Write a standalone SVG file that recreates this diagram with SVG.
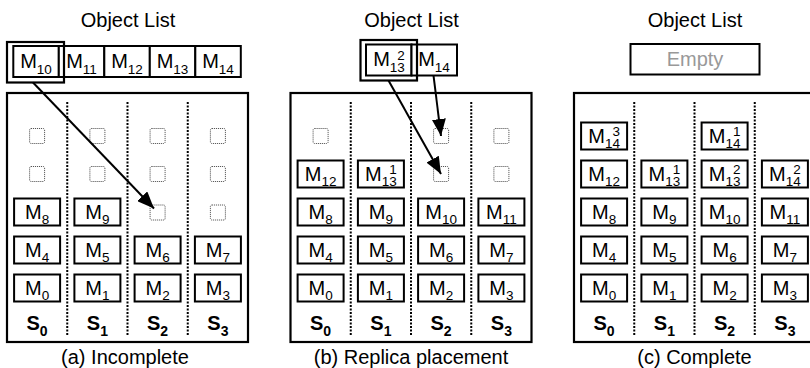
<svg xmlns="http://www.w3.org/2000/svg" width="810" height="368" viewBox="0 0 810 368">
<defs>
<style>
text{font-family:"Liberation Sans",Arial,Helvetica,sans-serif;fill:#000}
.t{font-size:20px;text-anchor:middle}
.m{font-size:20px;text-anchor:middle}
.sb{font-size:13.5px}
.s{font-size:20px;font-weight:bold;text-anchor:middle}
.sbb{font-size:14px;font-weight:bold}
.frame{fill:#fff;stroke:#000;stroke-width:2.2}
.box{fill:#fff;stroke:#000;stroke-width:2}
.hl{fill:none;stroke:#000;stroke-width:2.2}
.div{stroke:#000;stroke-width:2;stroke-dasharray:2 1.5;fill:none}
.sq{fill:#fff;stroke:#444;stroke-width:1;stroke-dasharray:1 1}
.arr{stroke:#000;stroke-width:2;fill:none;marker-end:url(#ah)}
.empty{fill:#999;font-size:20px;text-anchor:middle}
</style>
<marker id="ah" markerUnits="userSpaceOnUse" markerWidth="18" markerHeight="14" refX="17" refY="7" orient="auto">
<path d="M0,0 L17,7 L0,14 z" fill="#000"/>
</marker>
</defs>
<rect width="810" height="368" fill="#fff"/>

<!-- Panel (a) -->
<g id="panel-a">
<text class="t" x="128" y="27">Object List</text>
<g id="a-list">
<rect class="box" x="13.3" y="46" width="45.5" height="31"/>
<rect class="box" x="58.8" y="46" width="45.5" height="31"/>
<rect class="box" x="104.3" y="46" width="45.5" height="31"/>
<rect class="box" x="149.8" y="46" width="45.5" height="31"/>
<rect class="box" x="195.3" y="46" width="45.5" height="31"/>
<rect class="hl" x="7" y="42" width="57" height="40.5"/>
<text class="m" x="36" y="67.5">M<tspan class="sb" dy="6">10</tspan></text>
<text class="m" x="81.5" y="67.5">M<tspan class="sb" dy="6">11</tspan></text>
<text class="m" x="127" y="67.5">M<tspan class="sb" dy="6">12</tspan></text>
<text class="m" x="172.5" y="67.5">M<tspan class="sb" dy="6">13</tspan></text>
<text class="m" x="218" y="67.5">M<tspan class="sb" dy="6">14</tspan></text>
</g>
<rect class="frame" x="7" y="93" width="241" height="249"/>
<path class="div" d="M67.25,102V335M127.5,102V335M187.75,102V335"/>
<g id="a-slots">
<rect class="sq" x="29.6" y="128.5" width="15" height="15" rx="1.5"/>
<rect class="sq" x="89.9" y="128.5" width="15" height="15" rx="1.5"/>
<rect class="sq" x="150.1" y="128.5" width="15" height="15" rx="1.5"/>
<rect class="sq" x="210.4" y="128.5" width="15" height="15" rx="1.5"/>
<rect class="sq" x="29.6" y="166.5" width="15" height="15" rx="1.5"/>
<rect class="sq" x="89.9" y="166.5" width="15" height="15" rx="1.5"/>
<rect class="sq" x="150.1" y="166.5" width="15" height="15" rx="1.5"/>
<rect class="sq" x="210.4" y="166.5" width="15" height="15" rx="1.5"/>
<rect class="sq" x="150.1" y="205" width="15" height="15" rx="1.5"/>
<rect class="sq" x="210.4" y="205" width="15" height="15" rx="1.5"/>
</g>
<g id="a-M8"><rect class="box" x="14.1" y="198.5" width="46" height="27"/><text class="m" x="37.1" y="218.5">M<tspan class="sb" dy="5.5">8</tspan></text></g>
<g id="a-M9"><rect class="box" x="74.4" y="198.5" width="46" height="27"/><text class="m" x="97.4" y="218.5">M<tspan class="sb" dy="5.5">9</tspan></text></g>
<g id="a-M4"><rect class="box" x="14.1" y="236.5" width="46" height="27"/><text class="m" x="37.1" y="256.5">M<tspan class="sb" dy="5.5">4</tspan></text></g>
<g id="a-M5"><rect class="box" x="74.4" y="236.5" width="46" height="27"/><text class="m" x="97.4" y="256.5">M<tspan class="sb" dy="5.5">5</tspan></text></g>
<g id="a-M6"><rect class="box" x="134.6" y="236.5" width="46" height="27"/><text class="m" x="157.6" y="256.5">M<tspan class="sb" dy="5.5">6</tspan></text></g>
<g id="a-M7"><rect class="box" x="194.9" y="236.5" width="46" height="27"/><text class="m" x="217.9" y="256.5">M<tspan class="sb" dy="5.5">7</tspan></text></g>
<g id="a-M0"><rect class="box" x="14.1" y="274.5" width="46" height="27"/><text class="m" x="37.1" y="294.5">M<tspan class="sb" dy="5.5">0</tspan></text></g>
<g id="a-M1"><rect class="box" x="74.4" y="274.5" width="46" height="27"/><text class="m" x="97.4" y="294.5">M<tspan class="sb" dy="5.5">1</tspan></text></g>
<g id="a-M2"><rect class="box" x="134.6" y="274.5" width="46" height="27"/><text class="m" x="157.6" y="294.5">M<tspan class="sb" dy="5.5">2</tspan></text></g>
<g id="a-M3"><rect class="box" x="194.9" y="274.5" width="46" height="27"/><text class="m" x="217.9" y="294.5">M<tspan class="sb" dy="5.5">3</tspan></text></g>
<text class="s" x="37.1" y="330">S<tspan class="sbb" dy="6">0</tspan></text>
<text class="s" x="97.4" y="330">S<tspan class="sbb" dy="6">1</tspan></text>
<text class="s" x="157.6" y="330">S<tspan class="sbb" dy="6">2</tspan></text>
<text class="s" x="217.9" y="330">S<tspan class="sbb" dy="6">3</tspan></text>
<text class="t" x="125" y="364">(a) Incomplete</text>
</g>

<!-- Panel (b) -->
<g id="panel-b">
<text class="t" x="411.5" y="27">Object List</text>
<g id="b-list">
<rect class="box" x="366" y="44.5" width="45.5" height="31"/>
<rect class="box" x="411.5" y="44.5" width="45.5" height="31"/>
<rect class="hl" x="360.5" y="40" width="56.5" height="40.5"/>
<text class="m" x="389" y="66">M<tspan class="sb" dy="6">13</tspan><tspan class="sb" dx="-7.5" dy="-12.5">2</tspan></text>
<text class="m" x="434" y="66">M<tspan class="sb" dy="6">14</tspan></text>
</g>
<rect class="frame" x="290.5" y="93" width="241" height="249"/>
<path class="div" d="M350.75,102V335M411,102V335M471.25,102V335"/>
<g id="b-slots">
<rect class="sq" x="313.1" y="128.5" width="15" height="15" rx="1.5"/>
<rect class="sq" x="433.6" y="128.5" width="15" height="15" rx="1.5"/>
<rect class="sq" x="493.9" y="128.5" width="15" height="15" rx="1.5"/>
<rect class="sq" x="433.6" y="166.5" width="15" height="15" rx="1.5"/>
<rect class="sq" x="493.9" y="166.5" width="15" height="15" rx="1.5"/>
</g>
<g id="b-M12"><rect class="box" x="297.6" y="160.5" width="46" height="27"/><text class="m" x="320.6" y="180.5">M<tspan class="sb" dy="5.5">12</tspan></text></g>
<g id="b-M13-1"><rect class="box" x="357.9" y="160.5" width="46" height="27"/><text class="m" x="380.9" y="180.5">M<tspan class="sb" dy="5.5">13</tspan><tspan class="sb" dx="-7.5" dy="-12.5">1</tspan></text></g>
<g id="b-M8"><rect class="box" x="297.6" y="198.5" width="46" height="27"/><text class="m" x="320.6" y="218.5">M<tspan class="sb" dy="5.5">8</tspan></text></g>
<g id="b-M9"><rect class="box" x="357.9" y="198.5" width="46" height="27"/><text class="m" x="380.9" y="218.5">M<tspan class="sb" dy="5.5">9</tspan></text></g>
<g id="b-M10"><rect class="box" x="418.1" y="198.5" width="46" height="27"/><text class="m" x="441.1" y="218.5">M<tspan class="sb" dy="5.5">10</tspan></text></g>
<g id="b-M11"><rect class="box" x="478.4" y="198.5" width="46" height="27"/><text class="m" x="501.4" y="218.5">M<tspan class="sb" dy="5.5">11</tspan></text></g>
<g id="b-M4"><rect class="box" x="297.6" y="236.5" width="46" height="27"/><text class="m" x="320.6" y="256.5">M<tspan class="sb" dy="5.5">4</tspan></text></g>
<g id="b-M5"><rect class="box" x="357.9" y="236.5" width="46" height="27"/><text class="m" x="380.9" y="256.5">M<tspan class="sb" dy="5.5">5</tspan></text></g>
<g id="b-M6"><rect class="box" x="418.1" y="236.5" width="46" height="27"/><text class="m" x="441.1" y="256.5">M<tspan class="sb" dy="5.5">6</tspan></text></g>
<g id="b-M7"><rect class="box" x="478.4" y="236.5" width="46" height="27"/><text class="m" x="501.4" y="256.5">M<tspan class="sb" dy="5.5">7</tspan></text></g>
<g id="b-M0"><rect class="box" x="297.6" y="274.5" width="46" height="27"/><text class="m" x="320.6" y="294.5">M<tspan class="sb" dy="5.5">0</tspan></text></g>
<g id="b-M1"><rect class="box" x="357.9" y="274.5" width="46" height="27"/><text class="m" x="380.9" y="294.5">M<tspan class="sb" dy="5.5">1</tspan></text></g>
<g id="b-M2"><rect class="box" x="418.1" y="274.5" width="46" height="27"/><text class="m" x="441.1" y="294.5">M<tspan class="sb" dy="5.5">2</tspan></text></g>
<g id="b-M3"><rect class="box" x="478.4" y="274.5" width="46" height="27"/><text class="m" x="501.4" y="294.5">M<tspan class="sb" dy="5.5">3</tspan></text></g>
<text class="s" x="320.6" y="330">S<tspan class="sbb" dy="6">0</tspan></text>
<text class="s" x="380.9" y="330">S<tspan class="sbb" dy="6">1</tspan></text>
<text class="s" x="441.1" y="330">S<tspan class="sbb" dy="6">2</tspan></text>
<text class="s" x="501.4" y="330">S<tspan class="sbb" dy="6">3</tspan></text>
<text class="t" x="411" y="364">(b) Replica placement</text>
</g>

<!-- Panel (c) -->
<g id="panel-c">
<text class="t" x="695" y="27">Object List</text>
<g id="c-list">
<rect class="box" x="630.5" y="44" width="129" height="30.5"/>
<text class="empty" x="695" y="66">Empty</text>
</g>
<rect class="frame" x="574" y="93" width="241" height="249"/>
<path class="div" d="M634.25,102V335M694.5,102V335M754.75,102V335"/>
<g id="c-M14-3"><rect class="box" x="581.1" y="122.5" width="46" height="27"/><text class="m" x="604.1" y="142.5">M<tspan class="sb" dy="5.5">14</tspan><tspan class="sb" dx="-7.5" dy="-12.5">3</tspan></text></g>
<g id="c-M14-1"><rect class="box" x="701.6" y="122.5" width="46" height="27"/><text class="m" x="724.6" y="142.5">M<tspan class="sb" dy="5.5">14</tspan><tspan class="sb" dx="-7.5" dy="-12.5">1</tspan></text></g>
<g id="c-M12"><rect class="box" x="581.1" y="160.5" width="46" height="27"/><text class="m" x="604.1" y="180.5">M<tspan class="sb" dy="5.5">12</tspan></text></g>
<g id="c-M13-1"><rect class="box" x="641.4" y="160.5" width="46" height="27"/><text class="m" x="664.4" y="180.5">M<tspan class="sb" dy="5.5">13</tspan><tspan class="sb" dx="-7.5" dy="-12.5">1</tspan></text></g>
<g id="c-M13-2"><rect class="box" x="701.6" y="160.5" width="46" height="27"/><text class="m" x="724.6" y="180.5">M<tspan class="sb" dy="5.5">13</tspan><tspan class="sb" dx="-7.5" dy="-12.5">2</tspan></text></g>
<g id="c-M14-2"><rect class="box" x="761.9" y="160.5" width="46" height="27"/><text class="m" x="784.9" y="180.5">M<tspan class="sb" dy="5.5">14</tspan><tspan class="sb" dx="-7.5" dy="-12.5">2</tspan></text></g>
<g id="c-M8"><rect class="box" x="581.1" y="198.5" width="46" height="27"/><text class="m" x="604.1" y="218.5">M<tspan class="sb" dy="5.5">8</tspan></text></g>
<g id="c-M9"><rect class="box" x="641.4" y="198.5" width="46" height="27"/><text class="m" x="664.4" y="218.5">M<tspan class="sb" dy="5.5">9</tspan></text></g>
<g id="c-M10"><rect class="box" x="701.6" y="198.5" width="46" height="27"/><text class="m" x="724.6" y="218.5">M<tspan class="sb" dy="5.5">10</tspan></text></g>
<g id="c-M11"><rect class="box" x="761.9" y="198.5" width="46" height="27"/><text class="m" x="784.9" y="218.5">M<tspan class="sb" dy="5.5">11</tspan></text></g>
<g id="c-M4"><rect class="box" x="581.1" y="236.5" width="46" height="27"/><text class="m" x="604.1" y="256.5">M<tspan class="sb" dy="5.5">4</tspan></text></g>
<g id="c-M5"><rect class="box" x="641.4" y="236.5" width="46" height="27"/><text class="m" x="664.4" y="256.5">M<tspan class="sb" dy="5.5">5</tspan></text></g>
<g id="c-M6"><rect class="box" x="701.6" y="236.5" width="46" height="27"/><text class="m" x="724.6" y="256.5">M<tspan class="sb" dy="5.5">6</tspan></text></g>
<g id="c-M7"><rect class="box" x="761.9" y="236.5" width="46" height="27"/><text class="m" x="784.9" y="256.5">M<tspan class="sb" dy="5.5">7</tspan></text></g>
<g id="c-M0"><rect class="box" x="581.1" y="274.5" width="46" height="27"/><text class="m" x="604.1" y="294.5">M<tspan class="sb" dy="5.5">0</tspan></text></g>
<g id="c-M1"><rect class="box" x="641.4" y="274.5" width="46" height="27"/><text class="m" x="664.4" y="294.5">M<tspan class="sb" dy="5.5">1</tspan></text></g>
<g id="c-M2"><rect class="box" x="701.6" y="274.5" width="46" height="27"/><text class="m" x="724.6" y="294.5">M<tspan class="sb" dy="5.5">2</tspan></text></g>
<g id="c-M3"><rect class="box" x="761.9" y="274.5" width="46" height="27"/><text class="m" x="784.9" y="294.5">M<tspan class="sb" dy="5.5">3</tspan></text></g>
<text class="s" x="604.1" y="330">S<tspan class="sbb" dy="6">0</tspan></text>
<text class="s" x="664.4" y="330">S<tspan class="sbb" dy="6">1</tspan></text>
<text class="s" x="724.6" y="330">S<tspan class="sbb" dy="6">2</tspan></text>
<text class="s" x="784.9" y="330">S<tspan class="sbb" dy="6">3</tspan></text>
<text class="t" x="694.5" y="364">(c) Complete</text>
</g>

<g id="connectors">
<line class="arr" x1="33" y1="82.5" x2="154" y2="208.5"/>
<line class="arr" x1="388.5" y1="80.5" x2="441" y2="174"/>
<line class="arr" x1="433.5" y1="75.5" x2="441" y2="136"/>
</g>
</svg>
